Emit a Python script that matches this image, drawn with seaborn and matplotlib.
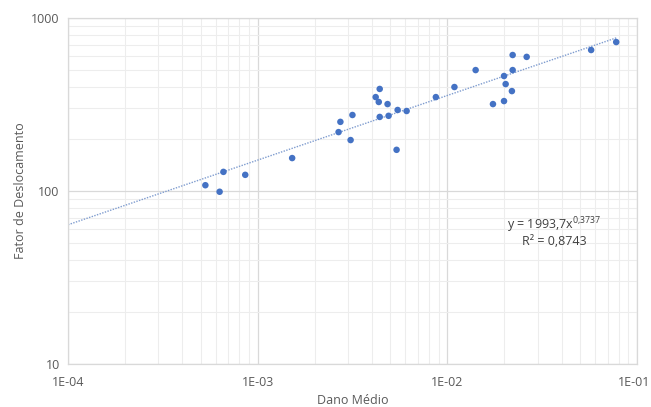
import numpy as np
import pandas as pd
import matplotlib
matplotlib.use("Agg")
import matplotlib.pyplot as plt
import seaborn as sns
from matplotlib.ticker import LogLocator, FixedLocator, FixedFormatter, NullFormatter
from matplotlib.transforms import ScaledTranslation

# Data
dano_medio = [5.3e-4, 6.3e-4, 6.6e-4, 8.6e-4, 1.52e-3, 2.67e-3, 2.73e-3, 3.09e-3, 3.16e-3,
              4.19e-3, 4.35e-3, 4.4e-3, 4.84e-3, 4.4e-3, 4.9e-3, 5.47e-3, 5.4e-3, 6.1e-3,
              8.7e-3, 1.09e-2, 1.41e-2, 1.74e-2, 1.99e-2, 1.99e-2, 2.03e-2, 2.19e-2,
              2.21e-2, 2.21e-2, 2.62e-2, 5.73e-2, 7.77e-2]
fator_desloc = [108, 99, 129, 124, 155, 219, 251, 197, 275,
                349, 327, 389, 318, 268, 272, 294, 173, 290,
                349, 399, 500, 318, 331, 462, 415, 378,
                611, 500, 596, 653, 726]

# Power trendline given on chart
coef_a = 1993.7
coef_b = 0.3737
r2_text = "R² = 0,8743"
trend_x = np.logspace(-4, np.log10(0.078), 200)

x_ticks = [1e-4, 1e-3, 1e-2, 1e-1]
x_tick_labels = ["1E-04", "1E-03", "1E-02", "1E-01"]
y_ticks = [10, 100, 1000]
y_tick_labels = ["10", "100", "1000"]

df = pd.DataFrame({"Dano Médio": dano_medio, "Fator de Deslocamento": fator_desloc})
trend = pd.DataFrame({"x": trend_x, "y": coef_a * trend_x ** coef_b})

sns.set_theme(style="white")
plt.rcParams["font.family"] = ["Open Sans", "DejaVu Sans"]
plt.rcParams["mathtext.fontset"] = "custom"
plt.rcParams["mathtext.rm"] = "Open Sans"
plt.rcParams["mathtext.it"] = "Open Sans"

fig = plt.figure(figsize=(6.51, 4.07), dpi=100)
ax = fig.add_axes([68/651, 1-364/407, (637-68)/651, (364-18)/407])

ax.set_xscale("log")
ax.set_yscale("log")

sns.lineplot(data=trend, x="x", y="y", ax=ax, color="#7f9ccf", linewidth=1.0,
             linestyle=(0, (1, 1)), zorder=2)
sns.scatterplot(data=df, x="Dano Médio", y="Fator de Deslocamento", ax=ax,
                color="#4472C4", s=22, edgecolor="none", zorder=3)

ax.set_xlim(1e-4, 1e-1)
ax.set_ylim(10, 1000)

ax.xaxis.set_major_locator(FixedLocator(x_ticks))
ax.xaxis.set_major_formatter(FixedFormatter(x_tick_labels))
ax.yaxis.set_major_locator(FixedLocator(y_ticks))
ax.yaxis.set_major_formatter(FixedFormatter(y_tick_labels))
ax.xaxis.set_minor_locator(LogLocator(base=10, subs=np.arange(2, 10)))
ax.yaxis.set_minor_locator(LogLocator(base=10, subs=np.arange(2, 10)))
ax.xaxis.set_minor_formatter(NullFormatter())
ax.yaxis.set_minor_formatter(NullFormatter())

ax.grid(True, which="major", color="#d9d9d9", linewidth=0.9, zorder=0)
ax.grid(True, which="minor", color="#ededed", linewidth=0.8, zorder=0)
ax.set_axisbelow(True)

for s in ax.spines.values():
    s.set_color("#d9d9d9")
    s.set_linewidth(0.9)

ax.tick_params(axis="both", which="both", length=0, labelsize=9, labelcolor="#595959")
ax.tick_params(axis="x", pad=9)
ax.tick_params(axis="y", pad=6)

# keep the last x label inside the canvas
fig.canvas.draw()
lbls = ax.get_xticklabels()
lbls[-1].set_transform(lbls[-1].get_transform() + ScaledTranslation(-3/100, 0, fig.dpi_scale_trans))

ax.set_xlabel("Dano Médio", fontsize=9, color="#595959", labelpad=3)
ax.set_ylabel("Fator de Deslocamento", fontsize=9, color="#595959", labelpad=3)

ax.text(0.855, 0.40, r"y = 1993,7x$^{0{,}3737}$", transform=ax.transAxes,
        ha="center", va="center", fontsize=9, color="#404040")
ax.text(0.855, 0.355, r2_text, transform=ax.transAxes,
        ha="center", va="center", fontsize=9, color="#404040")

fig.savefig("out.png", dpi=100)
